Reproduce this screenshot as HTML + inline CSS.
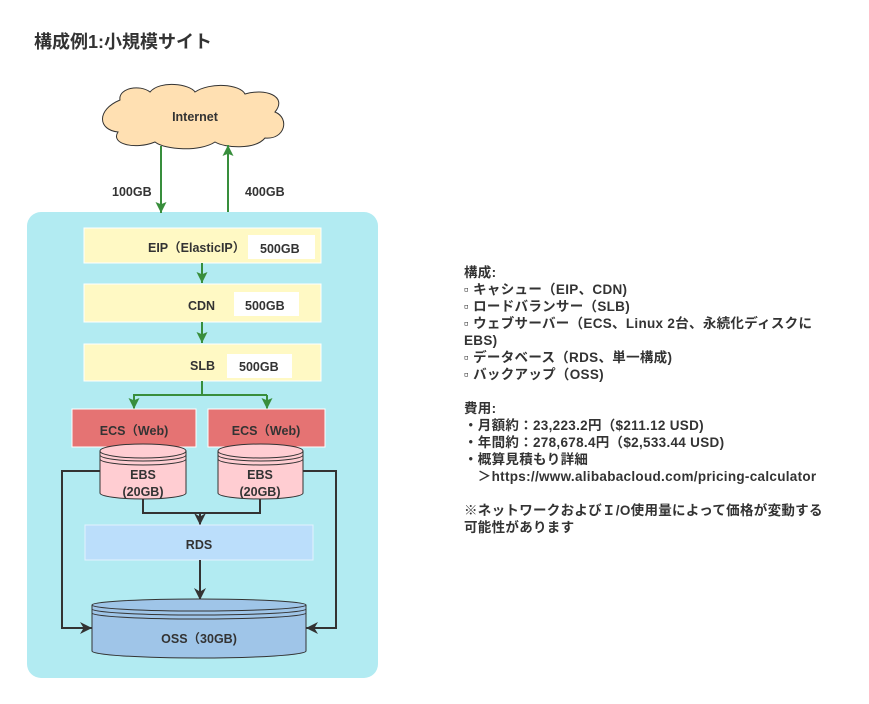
<!DOCTYPE html>
<html><head><meta charset="utf-8"><style>
body{margin:0;background:#fff;width:869px;height:704px;overflow:hidden;position:relative;font-family:"Liberation Sans","Noto Sans CJK JP",sans-serif;color:#333;font-weight:bold}
.t{position:absolute;left:464px;top:264px;font-size:13.5px;line-height:17px;white-space:pre;letter-spacing:0.3px}
</style></head><body>
<div style="position:absolute;left:34px;top:28px;font-size:18px;color:#333">構成例1:小規模サイト</div>
<svg width="869" height="704" style="position:absolute;left:0;top:0" font-family="Liberation Sans,Noto Sans CJK JP,sans-serif" font-weight="bold" font-size="12.5" fill="#333">
<defs>
<marker id="k" viewBox="0 0 10 10" refX="10" refY="5" markerWidth="12" markerHeight="12" orient="auto" markerUnits="userSpaceOnUse"><path d="M0,0 L10,5 L0,10 L3,5Z" fill="#333"/></marker>
<marker id="gg" viewBox="0 0 10 10" refX="10" refY="5" markerWidth="11" markerHeight="11" orient="auto" markerUnits="userSpaceOnUse"><path d="M0,0 L10,5 L0,10 L2,5Z" fill="#388e3c"/></marker>
</defs>
<rect x="27" y="212" width="351" height="466" rx="14" fill="#b2ebf2"/>
<path d="M120,100 C118,88 140,84 150,92 C160,80 190,84 195,92 C210,82 240,84 245,94 C265,88 288,96 275,112 C290,118 285,140 265,138 C255,150 225,148 215,142 C200,152 165,150 155,142 C135,150 110,144 118,132 C98,130 96,110 120,100Z" fill="#ffe0b2" stroke="#333" stroke-width="1"/>
<text x="195" y="121" text-anchor="middle">Internet</text>
<line x1="161" y1="146" x2="161" y2="213" stroke="#388e3c" stroke-width="2" marker-end="url(#gg)"/>
<line x1="228" y1="212" x2="228" y2="145" stroke="#388e3c" stroke-width="2" marker-end="url(#gg)"/>
<text x="112" y="196">100GB</text><text x="245" y="196">400GB</text>
<rect x="84" y="228" width="237" height="35" fill="#fff9c4" stroke="#fff" stroke-width="1"/>
<text x="148" y="252">EIP（ElasticIP）</text>
<rect x="248" y="235" width="67" height="24" fill="#fff"/>
<text x="260" y="253">500GB</text>
<rect x="84" y="284" width="237" height="38" fill="#fff9c4" stroke="#fff"/>
<rect x="234" y="292" width="65" height="24" fill="#fff"/>
<text x="188" y="310">CDN</text><text x="245" y="310">500GB</text>
<rect x="84" y="344" width="237" height="37" fill="#fff9c4" stroke="#fff"/>
<rect x="227" y="354" width="65" height="24" fill="#fff"/>
<text x="190" y="370">SLB</text><text x="239" y="371">500GB</text>
<line x1="202" y1="263" x2="202" y2="283" stroke="#388e3c" stroke-width="2" marker-end="url(#gg)"/>
<line x1="202" y1="322" x2="202" y2="343" stroke="#388e3c" stroke-width="2" marker-end="url(#gg)"/>
<path d="M202,381 V395 H134 V407 M202,395 H267" fill="none" stroke="#388e3c" stroke-width="2"/>
<line x1="134" y1="395" x2="134" y2="409" stroke="#388e3c" stroke-width="2" marker-end="url(#gg)"/>
<line x1="267" y1="395" x2="267" y2="409" stroke="#388e3c" stroke-width="2" marker-end="url(#gg)"/>
<rect x="72" y="409" width="124" height="38" fill="#e57373" stroke="#fff"/>
<rect x="208" y="409" width="117" height="38" fill="#e57373" stroke="#fff"/>
<text x="134" y="435" text-anchor="middle">ECS（Web)</text><text x="266" y="435" text-anchor="middle">ECS（Web)</text>
<g stroke="#333" stroke-width="1">
<path d="M100,451 V493 A43,6 0 0 0 186,493 V451" fill="#ffcdd2"/><ellipse cx="143" cy="451" rx="43" ry="7" fill="#ffcdd2"/>
<path d="M100,455 A43,6 0 0 0 186,455 M100,459 A43,6 0 0 0 186,459" fill="none"/>
<path d="M218,451 V493 A42.5,6 0 0 0 303,493 V451" fill="#ffcdd2"/><ellipse cx="260.5" cy="451" rx="42.5" ry="7" fill="#ffcdd2"/>
<path d="M218,455 A42.5,6 0 0 0 303,455 M218,459 A42.5,6 0 0 0 303,459" fill="none"/>
</g>
<text x="143" y="479" text-anchor="middle">EBS</text><text x="143" y="496" text-anchor="middle">(20GB)</text>
<text x="260" y="479" text-anchor="middle">EBS</text><text x="260" y="496" text-anchor="middle">(20GB)</text>
<path d="M143,499 V513 H260 V499" fill="none" stroke="#333" stroke-width="2"/>
<line x1="200" y1="513" x2="200" y2="525" stroke="#333" stroke-width="2" marker-end="url(#k)"/>
<rect x="85" y="525" width="228" height="35" fill="#bbdefb" stroke="#e3f2fd"/>
<text x="199" y="549" text-anchor="middle">RDS</text>
<line x1="200" y1="560" x2="200" y2="600" stroke="#333" stroke-width="2" marker-end="url(#k)"/>
<g stroke="#333" stroke-width="1">
<path d="M92,605 V651 A107,7 0 0 0 306,651 V605" fill="#9fc5e8"/><ellipse cx="199" cy="605" rx="107" ry="6" fill="#9fc5e8"/>
<path d="M92,609 A107,6 0 0 0 306,609 M92,613 A107,6 0 0 0 306,613" fill="none"/>
</g>
<text x="199" y="643" text-anchor="middle">OSS（30GB)</text>
<path d="M100,471 H62 V628 H80" fill="none" stroke="#333" stroke-width="2"/>
<line x1="75" y1="628" x2="92" y2="628" stroke="#333" stroke-width="2" marker-end="url(#k)"/>
<path d="M303,471 H336 V628 H318" fill="none" stroke="#333" stroke-width="2"/>
<line x1="323" y1="628" x2="306" y2="628" stroke="#333" stroke-width="2" marker-end="url(#k)"/>
</svg>
<div class="t">構成:
▫ キャシュー（EIP、CDN)
▫ ロードバランサー（SLB)
▫ ウェブサーバー（ECS、Linux 2台、永続化ディスクに
EBS)
▫ データベース（RDS、単一構成)
▫ バックアップ（OSS)

費用:
・月額約：23,223.2円（$211.12 USD)
・年間約：278,678.4円（$2,533.44 USD)
・概算見積もり詳細
　＞https://www.alibabacloud.com/pricing-calculator

※ネットワークおよびＩ/O使用量によって価格が変動する
可能性があります</div>
</body></html>
